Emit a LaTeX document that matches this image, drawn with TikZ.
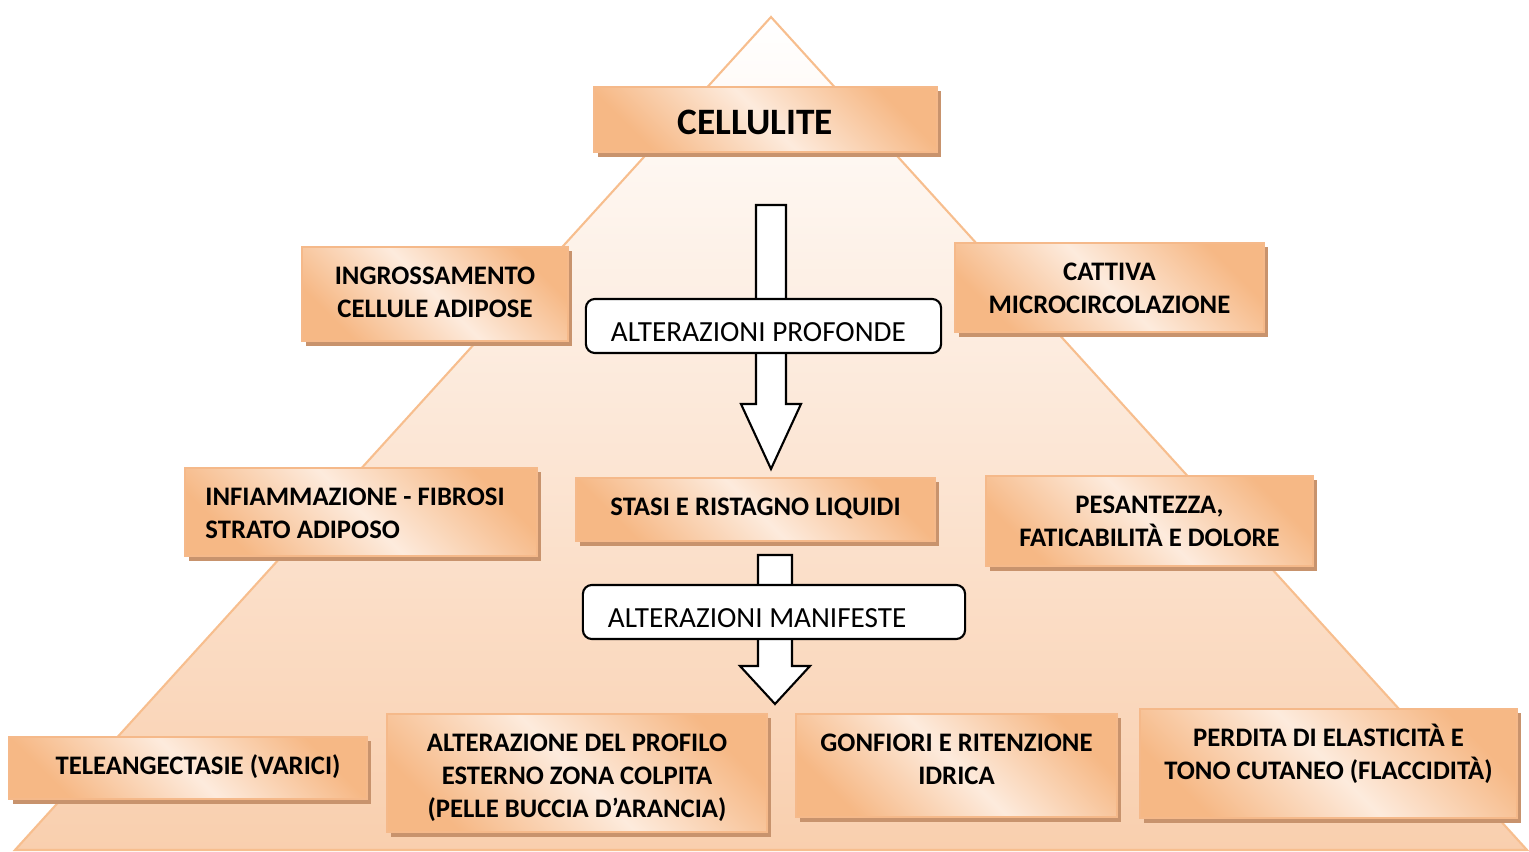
\documentclass[tikz,border=0pt]{standalone}
\usepackage{fontspec}
\setmainfont{Carlito}
\usetikzlibrary{shadows}

\definecolor{triline}{HTML}{F7BE8E}
\definecolor{trifill}{HTML}{F9CFAE}
\definecolor{boxline}{HTML}{F5B98A}
\definecolor{boxdark}{HTML}{F6B885}
\definecolor{boxlight}{HTML}{FDEBDD}
\definecolor{boxshadow}{HTML}{C8936D}

\newcommand{\boxlines}[2][@{}c@{}]{\begin{tabular}[t]{#1}#2\end{tabular}}

\begin{document}
\begin{tikzpicture}[x=0.01cm, y=-0.01cm,
                    tri/.style={draw=triline, line width=0.6pt, top color=white, bottom color=trifill},
                    obox/.style={draw=boxline, line width=0.4pt,
                                 left color=boxdark, right color=boxdark, middle color=boxlight, shading angle=135,
                                 general shadow={fill=boxshadow, shadow xshift=0.04cm, shadow yshift=-0.045cm},
                                 font=\bfseries\fontsize{7.6}{9.4}\selectfont, inner sep=0pt, text height=0.375cm},
                    wbox/.style={draw=black, line width=0.6pt, fill=white, rounded corners=0.09cm,
                                 font=\fontsize{8.3}{10}\selectfont, align=flush left, inner ysep=0pt, inner xsep=0.25cm,
                                 text height=0.42cm, text depth=0.12cm},
                    blockarrow/.style={draw=black, line width=0.6pt, fill=white},
                   ]

\useasboundingbox (0,0) rectangle (1529,852);

% pyramid
\draw[tri] (771,17) -- (1527,850) -- (15,850) -- cycle;

% block arrows
\draw[blockarrow] (756,205) -- (786,205) -- (786,404) -- (801,404) -- (771,469) -- (741,404) -- (756,404) -- cycle;
\draw[blockarrow] (758,555) -- (792,555) -- (792,666) -- (810,666) -- (775,704) -- (740,666) -- (758,666) -- cycle;

% labels on the arrows
\node[wbox, text width=3.05cm] (profonde) at (763.5,326) {ALTERAZIONI PROFONDE};
\node[wbox, text width=3.32cm] (manifeste) at (774,612) {ALTERAZIONI MANIFESTE};

% top
\node[obox, minimum width=3.43cm, font=\bfseries\fontsize{10.6}{13}\selectfont,
      text height=0.47cm, text depth=0.18cm] (cellulite) at (765.5,119.5) {\boxlines[@{}c@{\hspace{0.2cm}}]{CELLULITE}};

% second row
\node[obox, minimum width=2.66cm, text depth=0.565cm] (ingrossamento) at (435,294) {\boxlines{INGROSSAMENTO\\CELLULE ADIPOSE}};
\node[obox, minimum width=3.09cm, text depth=0.515cm] (microcircolo) at (1109.5,287.5) {\boxlines{CATTIVA\\MICROCIRCOLAZIONE}};

% third row
\node[obox, minimum width=3.52cm, text depth=0.505cm] (fibrosi) at (361,512) {\boxlines[@{}l@{\hspace{0.12cm}}]{INFIAMMAZIONE - FIBROSI\\STRATO ADIPOSO}};
\node[obox, minimum width=3.59cm, text depth=0.255cm] (stasi) at (755.5,509.5) {\boxlines{STASI E RISTAGNO LIQUIDI}};
\node[obox, minimum width=3.27cm, text depth=0.525cm] (pesantezza) at (1149.5,521) {\boxlines{PESANTEZZA,\\FATICABILITÀ E DOLORE}};

% bottom row
\node[obox, minimum width=3.58cm, text depth=0.245cm] (varici) at (188,768) {\boxlines[@{\hspace{0.2cm}}c@{}]{TELEANGECTASIE (VARICI)}};
\node[obox, minimum width=3.80cm, text depth=0.805cm] (profilo) at (577,773) {\boxlines{ALTERAZIONE DEL PROFILO\\ESTERNO ZONA COLPITA\\(PELLE BUCCIA D’ARANCIA)}};
\node[obox, minimum width=3.21cm, text depth=0.655cm] (gonfiori) at (956.5,765.5) {\boxlines{GONFIORI E RITENZIONE\\IDRICA}};
\node[obox, minimum width=3.77cm, text depth=0.715cm] (elasticita) at (1328.5,763.5) {\boxlines{PERDITA DI ELASTICITÀ E\\TONO CUTANEO (FLACCIDITÀ)}};

\end{tikzpicture}
\end{document}
